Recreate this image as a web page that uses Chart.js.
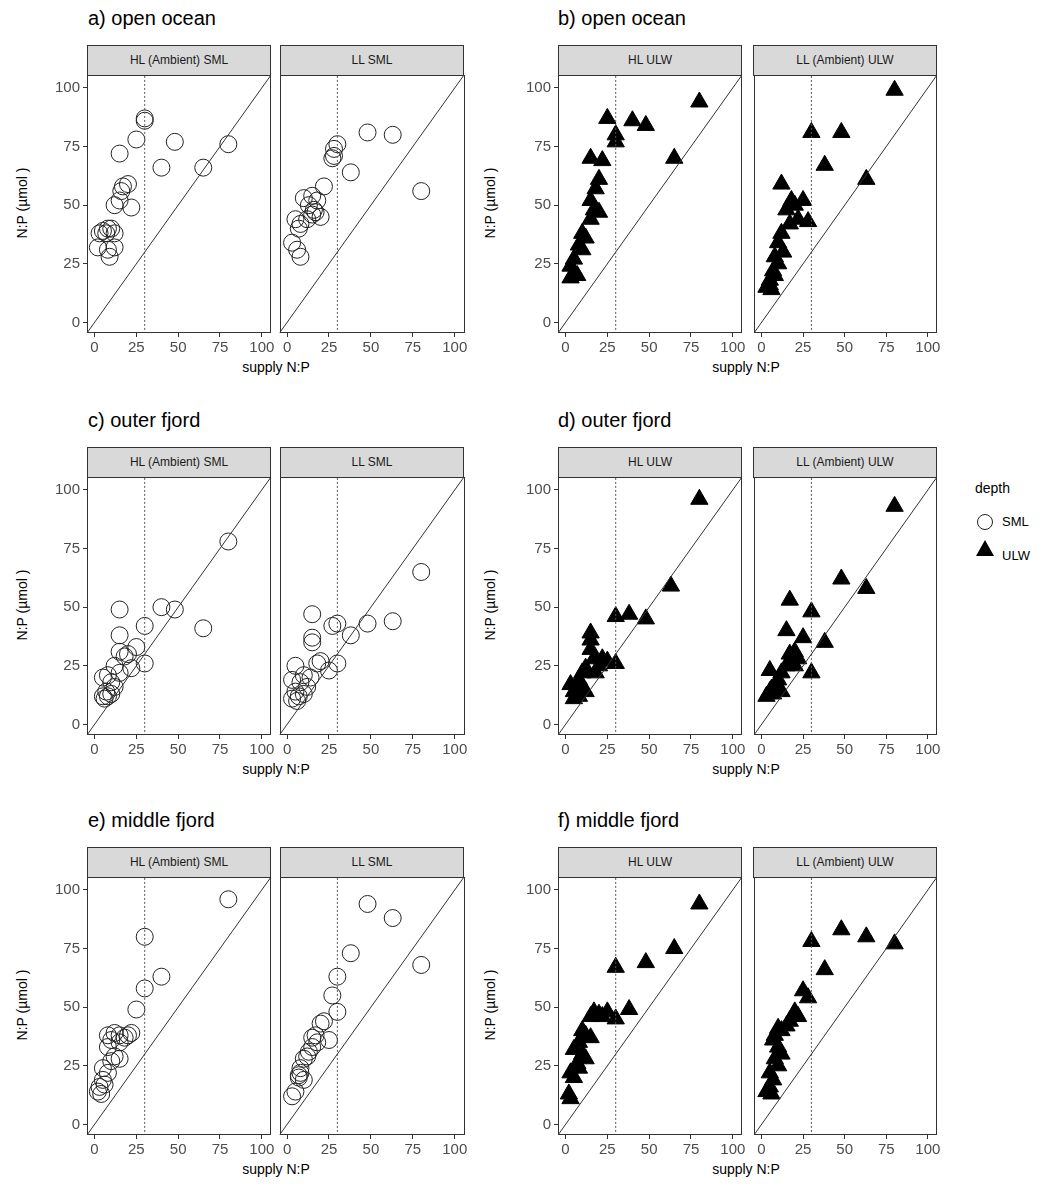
<!DOCTYPE html>
<html>
<head>
<meta charset="utf-8">
<script src="https://cdn.jsdelivr.net/npm/chart.js@4.4.1/dist/chart.umd.min.js"></script>
<style>
  body { margin:0; background:#fff; font-family:"Liberation Sans", Arial, sans-serif; }
  #page { position:relative; width:1056px; height:1190px; }
  .box { position:absolute; }
  .strip { position:absolute; background:#d9d9d9; border:1px solid #333; box-sizing:border-box;
           font-size:12px; color:#1a1a1a; text-align:center; line-height:28px; }
  .title { position:absolute; font-size:20px; color:#000; }
  .xlab { position:absolute; font-size:14px; color:#000; width:380px; text-align:center; }
  .ylab { position:absolute; font-size:14px; color:#000; width:260px; text-align:center;
          transform:rotate(-90deg); transform-origin:center; }
</style>
</head>
<body>
<div id="page"></div>
<script>
// supply N:P vs measured N:P, [x, y] pairs per panel
var openHLsml = [[30,87],[30,86],[25,78],[15,72],[48,77],[80,76],[40,66],[65,66],[17,58],[20,59],[16,56],[15,52],[12,50],[22,49],[10,40],[8,40],[5,39],[7,38],[3,38],[12,38],[2,32],[8,31],[12,32],[9,28]];
var openLLsml = [[48,81],[63,80],[30,76],[28,74],[28,71],[27,70],[38,64],[80,56],[22,58],[15,54],[18,52],[10,53],[13,50],[16,48],[15,46],[17,47],[5,44],[8,42],[20,45],[12,44],[7,40],[3,34],[6,31],[8,28]];
var openHLulw = [[80,94],[25,87],[40,86],[48,84],[30,80],[30,77],[15,70],[22,69],[65,70],[20,61],[18,57],[15,52],[17,48],[20,47],[15,44],[10,38],[12,36],[8,33],[10,31],[5,27],[3,24],[5,21],[3,19],[7,20]];
var openLLulw = [[80,99],[30,81],[48,81],[38,67],[63,61],[12,59],[18,52],[25,52],[15,48],[20,50],[22,44],[17,42],[28,43],[12,38],[10,34],[13,30],[8,28],[10,25],[7,22],[5,18],[8,20],[3,15],[5,16],[6,14]];
var outerHLsml = [[80,78],[40,50],[48,49],[15,49],[30,42],[65,41],[15,38],[25,33],[15,31],[18,29],[20,30],[30,26],[12,25],[22,24],[5,20],[8,21],[10,18],[12,16],[7,14],[5,12],[8,12],[10,13],[6,11],[15,22]];
var outerLLsml = [[80,65],[63,44],[48,43],[30,43],[27,42],[38,38],[15,47],[15,37],[15,35],[30,26],[20,27],[18,26],[25,23],[5,25],[3,19],[10,21],[8,18],[12,16],[5,14],[3,11],[7,12],[6,10],[10,13],[14,20]];
var outerHLulw = [[80,96],[63,59],[38,47],[30,46],[48,45],[15,39],[15,36],[15,32],[22,28],[25,27],[30,26],[17,28],[20,25],[12,24],[10,22],[18,22],[8,19],[3,17],[5,14],[10,16],[7,13],[12,14],[5,11],[8,12]];
var outerLLulw = [[80,93],[48,62],[63,58],[17,53],[30,48],[38,35],[15,40],[25,37],[20,31],[17,30],[22,28],[30,22],[5,23],[15,25],[12,22],[10,19],[8,16],[5,14],[3,12],[7,13],[12,14],[20,25],[18,27],[6,15]];
var midHLsml = [[80,96],[30,80],[30,58],[40,63],[25,49],[15,38],[12,39],[20,38],[22,39],[8,38],[10,36],[18,37],[15,35],[8,33],[12,29],[15,28],[5,24],[8,22],[5,19],[3,16],[2,14],[4,13],[6,17],[10,27]];
var midLLsml = [[48,94],[63,88],[80,68],[38,73],[30,63],[27,55],[30,48],[22,44],[20,43],[15,37],[17,38],[25,36],[15,33],[12,29],[10,28],[8,22],[7,20],[10,19],[5,14],[3,12],[7,21],[13,31],[18,35],[8,24]];
var midHLulw = [[80,94],[30,67],[48,69],[65,75],[25,48],[20,47],[15,46],[17,48],[22,46],[30,45],[38,49],[10,40],[12,38],[15,37],[8,35],[5,32],[10,30],[12,28],[7,26],[3,22],[5,20],[8,24],[2,13],[3,11]];
var midLLulw = [[30,78],[48,83],[63,80],[80,77],[38,66],[25,57],[28,54],[20,48],[22,46],[17,44],[10,41],[12,40],[15,42],[8,38],[7,36],[10,33],[12,30],[8,28],[10,25],[5,22],[7,19],[5,16],[3,14],[6,13]];

var tickVals = [0, 25, 50, 75, 100];
var diagLine = [-10, 110];
var redfieldX = 30;
var stripLabels = ["HL (Ambient) SML", "LL SML", "HL ULW", "LL (Ambient) ULW"];
var titles = [["a) open ocean", "b) open ocean"], ["c) outer fjord", "d) outer fjord"], ["e) middle fjord", "f) middle fjord"]];
var rowData = [
  [openHLsml, openLLsml, openHLulw, openLLulw],
  [outerHLsml, outerLLsml, outerHLulw, outerLLulw],
  [midHLsml, midLLsml, midHLulw, midLLulw]
];

var page = document.getElementById("page");
var colLeft = [87, 280, 558, 753], plotW = 184;
var rowTop = [75, 477, 877], plotH = 258;
var yw = 45, xh = 26, padT = 14, padR = 15, noYShift = 10;

var framePlugin = {
  id: "frame",
  afterDraw: function(chart){
    var a = chart.chartArea, c = chart.ctx;
    c.save();
    c.strokeStyle = "#333";
    c.lineWidth = 1;
    c.strokeRect(Math.round(a.left) + 0.5, Math.round(a.top) + 0.5, Math.round(a.right - a.left) - 1, Math.round(a.bottom - a.top) - 1);
    c.restore();
  }
};

function addDiv(cls, text, css){
  var d = document.createElement("div");
  d.className = cls;
  if (text) d.textContent = text;
  for (var k in css) d.style[k] = css[k] + "px";
  page.appendChild(d);
  return d;
}

function makePanel(r, c){
  var showY = (c === 0 || c === 2);
  var tri = c >= 2;
  var pts = rowData[r][c].map(function(p){ return {x: p[0], y: p[1]}; });
  var lw = showY ? yw : noYShift;
  var L = colLeft[c] - lw, T = rowTop[r] - padT;
  var box = addDiv("box", null, {left: L, top: T, width: plotW + lw + padR, height: plotH + padT + xh});
  var cv = document.createElement("canvas");
  box.appendChild(cv);
  addDiv("strip", stripLabels[c], {left: colLeft[c], top: rowTop[r] - 30, width: plotW, height: 31});

  new Chart(cv.getContext("2d"), {
    type: "scatter",
    data: {
      datasets: [
        { type: "line", data: diagLine.map(function(v){ return {x: v, y: v}; }),
          borderColor: "#333", borderWidth: 1, pointRadius: 0 },
        { type: "line", data: [{x: redfieldX, y: -10}, {x: redfieldX, y: 110}],
          borderColor: "#555", borderWidth: 1, borderDash: [2, 2], pointRadius: 0 },
        { data: pts,
          pointStyle: tri ? "triangle" : "circle",
          pointRadius: tri ? 10 : 8.5,
          pointBorderWidth: 1,
          pointBackgroundColor: tri ? "#000" : "rgba(0,0,0,0)",
          pointBorderColor: tri ? "#000" : "#222" }
      ]
    },
    options: {
      responsive: true, maintainAspectRatio: false, animation: false,
      layout: { padding: { top: padT, right: padR, left: 0, bottom: 0 } },
      plugins: { legend: { display: false }, tooltip: { enabled: false } },
      scales: {
        x: {
          type: "linear", min: -4.5, max: 105.5,
          afterBuildTicks: function(s){ s.ticks = tickVals.map(function(v){ return {value: v}; }); },
          afterFit: function(s){ s.height = xh; s.paddingLeft = 0; s.paddingRight = 0; },
          ticks: { color: "#4d4d4d", font: { size: 15, family: "Liberation Sans" }, padding: 2, maxRotation: 0, autoSkip: false },
          grid: { drawOnChartArea: false, drawTicks: true, tickLength: 4, color: "#333" },
          border: { display: false }
        },
        y: {
          type: "linear", min: -4.5, max: 105.5, display: showY,
          afterBuildTicks: function(s){ s.ticks = tickVals.map(function(v){ return {value: v}; }); },
          afterFit: function(s){ s.width = showY ? yw : 0; s.paddingTop = 0; s.paddingBottom = 0; },
          ticks: { color: "#4d4d4d", font: { size: 15, family: "Liberation Sans" }, padding: 3, autoSkip: false },
          grid: { drawOnChartArea: false, drawTicks: true, tickLength: 4, color: "#333" },
          border: { display: false }
        }
      }
    },
    plugins: [framePlugin]
  });
}

for (var r = 0; r < 3; r++){
  addDiv("title", titles[r][0], {left: 88, top: rowTop[r] - 68});
  addDiv("title", titles[r][1], {left: 558, top: rowTop[r] - 68});
  addDiv("xlab", "supply N:P", {left: 86, top: rowTop[r] + plotH + 26});
  addDiv("xlab", "supply N:P", {left: 556, top: rowTop[r] + plotH + 26});
  addDiv("ylab", "N:P (\u00b5mol )", {left: 22 - 130, top: rowTop[r] + plotH / 2 - 9});
  addDiv("ylab", "N:P (\u00b5mol )", {left: 490 - 130, top: rowTop[r] + plotH / 2 - 9});
  for (var c = 0; c < 4; c++) makePanel(r, c);
}

// legend
addDiv("title", "depth", {left: 975, top: 480}).style.fontSize = "14px";
var lg = document.createElement("canvas");
lg.width = 30; lg.height = 60;
lg.style.position = "absolute"; lg.style.left = "970px"; lg.style.top = "505px";
page.appendChild(lg);
var lc = lg.getContext("2d");
lc.strokeStyle = "#222"; lc.lineWidth = 1;
lc.beginPath(); lc.arc(15, 17, 7.5, 0, Math.PI * 2); lc.stroke();
lc.fillStyle = "#000";
lc.beginPath(); lc.moveTo(15, 35); lc.lineTo(24, 51); lc.lineTo(6, 51); lc.closePath(); lc.fill();
addDiv("title", "SML", {left: 1002, top: 514}).style.fontSize = "13px";
addDiv("title", "ULW", {left: 1002, top: 548}).style.fontSize = "13px";
</script>
</body>
</html>
